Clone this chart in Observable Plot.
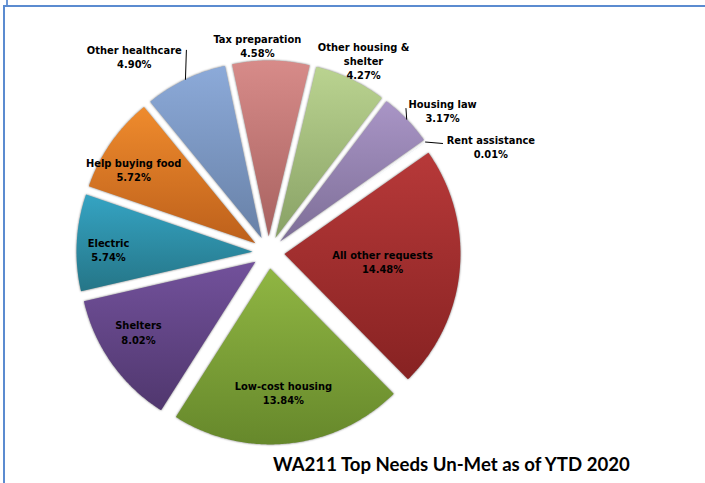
<!DOCTYPE html>
<html>
<head>
<meta charset="utf-8">
<script src="https://cdn.jsdelivr.net/npm/d3@7"></script>
<script src="https://cdn.jsdelivr.net/npm/@observablehq/plot@0.6"></script>
<style>
  html, body { margin: 0; padding: 0; background: #fff; }
  body { width: 705px; height: 483px; overflow: hidden; position: relative; }
  #chart { position: absolute; left: 0; top: 0; }
  #frame { position: absolute; left: 3px; top: 5px; width: 702px; height: 478px;
           border-top: 2.5px solid #5b8bd0; border-left: 2.5px solid #5b8bd0;
           box-sizing: border-box; pointer-events: none; }
  #tick { position: absolute; left: 6px; top: 0; width: 1.5px; height: 5px; background: #6d98d6; }
  #title { position: absolute; left: 273px; top: 453px; font: bold 18.6px Lato, "Liberation Sans", sans-serif;
           color: #000; white-space: nowrap; }
</style>
</head>
<body>
<div id="tick"></div>
<div id="frame"></div>
<div id="chart"></div>
<div id="title">WA211 Top Needs Un-Met as of YTD 2020</div>
<script>
// ---- data ----
const categories = ["Tax preparation", "Other housing & shelter", "Housing law", "Rent assistance",
  "All other requests", "Low-cost housing", "Shelters", "Electric", "Help buying food", "Other healthcare"];
const labelNames = ["Tax preparation", "Other housing &\nshelter", "Housing law", "Rent assistance",
  "All other requests", "Low-cost housing", "Shelters", "Electric", "Help buying food", "Other healthcare"];
const values = [4.58, 4.27, 3.17, 0.01, 14.48, 13.84, 8.02, 5.74, 5.72, 4.90];

// ---- styles ----
const topColors    = ["#d78b89", "#bad390", "#a995c6", "#4f81bd", "#b73939", "#90b643", "#72519b", "#35a4c3", "#ef8b2d", "#8caad9"];
const bottomColors = ["#a86260", "#88a165", "#7d6e97", "#3f6a9c", "#872222", "#66882b", "#50376e", "#257587", "#bd601b", "#6881a7"];

// ---- layout ----
const W = 705, H = 452, cx = 268, cy = 252, R = 176, explodePx = 16, startDeg = -12;
// label placement relative to each slice's mid angle: angle tweak (deg), distance (radius units)
const labelPlace = [
  {dt: -3.8, k: 1.18},
  {dt: 1.0, k: 1.217},
  {dt: 4.8, k: 1.276, leader: {t: 43.68, k: 1.131}},
  {dt: 9.6, k: 1.40, leader: {t: 57.94, k: 1.167}},
  {dt: -0.7, k: 0.65},
  {dt: 0, k: 0.80},
  {dt: 3.85, k: 0.866},
  {dt: -1.9, k: 0.909},
  {dt: -3.2, k: 0.90},
  {dt: -8.8, k: 1.349, leader: {t: 337.9, k: 1.240}}
];

const rad = d => d * Math.PI / 180;
const start = rad(startDeg);
const arcs = d3.pie().sort(null).value(d => d).startAngle(start).endAngle(start + 2 * Math.PI)(values);
const ex = explodePx / R;

const slicePts = [];
const leaderPts = [];
const labels = [];
arcs.forEach((a, i) => {
  const mid = (a.startAngle + a.endAngle) / 2;
  const ox = ex * Math.sin(mid), oy = ex * Math.cos(mid);
  const n = Math.max(2, Math.ceil((a.endAngle - a.startAngle) / (Math.PI / 360)));
  slicePts.push({i, x: ox, y: oy});
  for (let j = 0; j <= n; j++) {
    const t = a.startAngle + (a.endAngle - a.startAngle) * j / n;
    slicePts.push({i, x: ox + Math.sin(t), y: oy + Math.cos(t)});
  }
  slicePts.push({i, x: ox, y: oy});
  const p = labelPlace[i];
  const lt = mid + rad(p.dt);
  labels.push({i, x: p.k * Math.sin(lt), y: p.k * Math.cos(lt),
    text: labelNames[i] + "\n" + values[i].toFixed(2) + "%"});
  if (p.leader) {
    const e = 1 + ex;
    leaderPts.push({i, x: e * Math.sin(mid), y: e * Math.cos(mid)});
    leaderPts.push({i, x: p.leader.k * Math.sin(rad(p.leader.t)), y: p.leader.k * Math.cos(rad(p.leader.t))});
  }
});

const defsMark = () => {
  const defs = d3.create("svg:defs");
  arcs.forEach((a, i) => {
    const g = defs.append("linearGradient").attr("id", "grad" + i)
      .attr("x1", 0).attr("y1", 0).attr("x2", 0).attr("y2", 1);
    g.append("stop").attr("offset", "0%").attr("stop-color", topColors[i]);
    g.append("stop").attr("offset", "100%").attr("stop-color", bottomColors[i]);
  });
  return defs.node();
};

const chart = Plot.plot({
  width: W, height: H,
  margin: 0,
  x: {domain: [-cx / R, (W - cx) / R], axis: null},
  y: {domain: [-(H - cy) / R, cy / R], axis: null},
  style: {background: "transparent", overflow: "visible"},
  marks: [
    defsMark,
    Plot.line(slicePts, {x: "x", y: "y", z: "i", fill: d => `url(#grad${d.i})`, stroke: "none", curve: "linear"}),
    Plot.line(leaderPts, {x: "x", y: "y", z: "i", stroke: "#000", strokeWidth: 1}),
    Plot.text(labels, {x: "x", y: "y", text: "text", fontWeight: "bold", fontSize: 11, lineHeight: 1.3,
      fill: "#000", fontFamily: "'DejaVu Sans Condensed', 'DejaVu Sans', sans-serif"})
  ]
});
const sliceGroup = chart.querySelector('g[aria-label="line"]');
if (sliceGroup) sliceGroup.style.filter = "drop-shadow(0px 0px 1.2px rgba(0,0,0,0.55))";
document.getElementById("chart").appendChild(chart);
</script>
</body>
</html>
